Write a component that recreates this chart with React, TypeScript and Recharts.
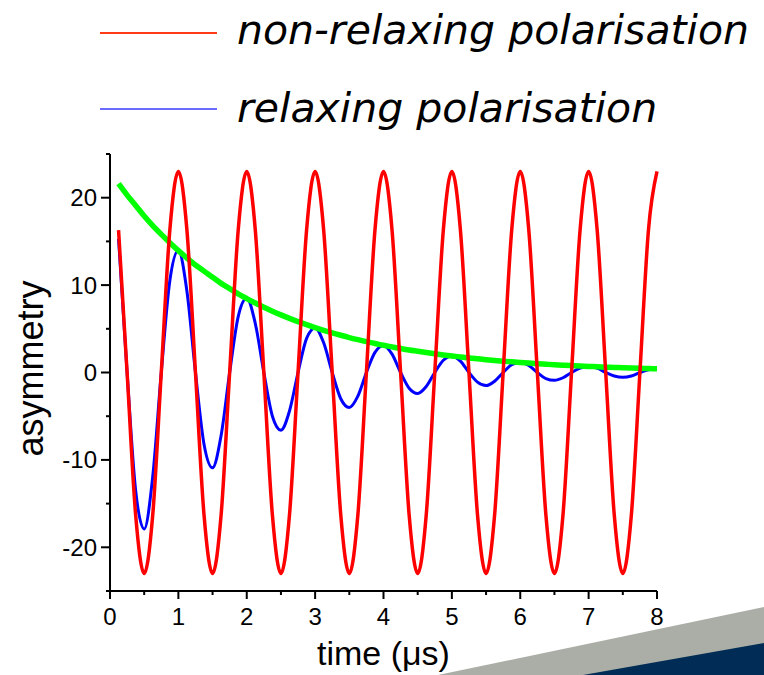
import React from 'react';
import { LineChart, Line, XAxis, YAxis, Legend, Label } from 'recharts';

// time axis in microseconds, sampled every 1/8 µs
const timeUs = [
  0.125, 0.25, 0.375, 0.5, 0.625, 0.75, 0.875, 1,
  1.125, 1.25, 1.375, 1.5, 1.625, 1.75, 1.875, 2,
  2.125, 2.25, 2.375, 2.5, 2.625, 2.75, 2.875, 3,
  3.125, 3.25, 3.375, 3.5, 3.625, 3.75, 3.875, 4,
  4.125, 4.25, 4.375, 4.5, 4.625, 4.75, 4.875, 5,
  5.125, 5.25, 5.375, 5.5, 5.625, 5.75, 5.875, 6,
  6.125, 6.25, 6.375, 6.5, 6.625, 6.75, 6.875, 7,
  7.125, 7.25, 7.375, 7.5, 7.625, 7.75, 7.875, 8,
];

const nonRelaxing = [
  16.3, 0, -16.3, -23, -16.3, 0, 16.3, 23,
  16.3, 0, -16.3, -23, -16.3, 0, 16.3, 23,
  16.3, 0, -16.3, -23, -16.3, 0, 16.3, 23,
  16.3, 0, -16.3, -23, -16.3, 0, 16.3, 23,
  16.3, 0, -16.3, -23, -16.3, 0, 16.3, 23,
  16.3, 0, -16.3, -23, -16.3, 0, 16.3, 23,
  16.3, 0, -16.3, -23, -16.3, 0, 16.3, 23,
  16.3, 0, -16.3, -23, -16.3, 0, 16.3, 23,
];

const relaxing = [
  15.3, 0, -13.5, -17.9, -11.9, 0, 10.5, 13.95,
  9.3, 0, -8.2, -10.9, -7.2, 0, 6.4, 8.5,
  5.6, 0, -5.0, -6.6, -4.4, 0, 3.9, 5.1,
  3.4, 0, -3.0, -4.0, -2.7, 0, 2.3, 3.1,
  2.1, 0, -1.8, -2.4, -1.6, 0, 1.4, 1.9,
  1.3, 0, -1.1, -1.5, -1.0, 0, 0.9, 1.15,
  0.8, 0, -0.7, -0.9, -0.6, 0, 0.5, 0.7,
  0.5, 0, -0.4, -0.55, -0.4, 0, 0.3, 0.42,
];

const envelope = [
  21.6, 20.3, 19.1, 17.9, 16.8, 15.8, 14.85, 13.95,
  13.1, 12.3, 11.6, 10.9, 10.2, 9.6, 9.0, 8.46,
  7.95, 7.47, 7.02, 6.59, 6.19, 5.82, 5.47, 5.13,
  4.82, 4.53, 4.26, 4.0, 3.76, 3.53, 3.32, 3.11,
  2.93, 2.75, 2.58, 2.43, 2.28, 2.14, 2.01, 1.89,
  1.78, 1.67, 1.57, 1.47, 1.38, 1.3, 1.22, 1.15,
  1.08, 1.01, 0.95, 0.89, 0.84, 0.79, 0.74, 0.7,
  0.65, 0.61, 0.58, 0.54, 0.51, 0.48, 0.45, 0.42,
];

const xTicks = [0, 0.5, 1, 1.5, 2, 2.5, 3, 3.5, 4, 4.5, 5, 5.5, 6, 6.5, 7, 7.5, 8];
const yTicks = [-25, -20, -15, -10, -5, 0, 5, 10, 15, 20, 25];

const legendLabels: Record<string, string> = {
  nonRelaxing: 'non-relaxing polarisation',
  relaxing: 'relaxing polarisation',
};
const legendOrder = ['nonRelaxing', 'relaxing'];
const legendColors: Record<string, string> = {
  nonRelaxing: '#ff3a17',
  relaxing: '#6b6bff',
};

const data = timeUs.map((t, i) => ({
  time: t,
  nonRelaxing: nonRelaxing[i],
  relaxing: relaxing[i],
  envelope: envelope[i],
}));

const axisFont = '"Liberation Sans", Arial, sans-serif';

const XTick = (props: any) => {
  const { x, y, payload } = props;
  const major = Number.isInteger(payload.value);
  return (
    <g>
      <line x1={x} y1={y} x2={x} y2={y + (major ? 8 : 4)} stroke="#000" strokeWidth={2} />
      {major && (
        <text x={x} y={y + 34} textAnchor="middle" fontSize={24} fontFamily={axisFont} fill="#000">
          {payload.value}
        </text>
      )}
    </g>
  );
};

const YTick = (props: any) => {
  const { x, y, payload } = props;
  const major = payload.value % 10 === 0;
  return (
    <g>
      <line x1={x} y1={y} x2={x - (major ? 9 : 4)} y2={y} stroke="#000" strokeWidth={2} />
      {major && (
        <text x={x - 13} y={y + 8.5} textAnchor="end" fontSize={24} fontFamily={axisFont} fill="#000">
          {payload.value}
        </text>
      )}
    </g>
  );
};

const renderLegend = (props: any) => {
  const items = [...(props.payload || [])]
    .filter((p: any) => legendLabels[p.dataKey])
    .sort((a: any, b: any) => legendOrder.indexOf(a.dataKey) - legendOrder.indexOf(b.dataKey));
  return (
    <svg width={764} height={140}>
      {items.map((p: any, i: number) => {
        const cy = 33 + i * 76;
        return (
          <g key={p.dataKey}>
            <line x1={100} y1={cy} x2={217} y2={cy} stroke={legendColors[p.dataKey]} strokeWidth={2} />
            <text
              x={237}
              y={cy + 11 + i * 2}
              fontSize={41}
              fontStyle="italic"
              fontFamily='"DejaVu Sans", sans-serif'
              fill="#000"
            >
              {legendLabels[p.dataKey]}
            </text>
          </g>
        );
      })}
    </svg>
  );
};

export default function App() {
  return (
    <div style={{ position: 'absolute', left: 0, top: 0, width: 764, height: 675, background: '#fff' }}>
      <LineChart
        width={764}
        height={675}
        data={data}
        margin={{ top: 154, right: 107, bottom: 54, left: 50 }}
      >
        <XAxis
          dataKey="time"
          type="number"
          domain={[0, 8]}
          ticks={xTicks}
          interval={0}
          height={30}
          tickSize={0}
          tickMargin={0}
          tickLine={false}
          tick={<XTick />}
          axisLine={{ stroke: '#000', strokeWidth: 2 }}
        >
          <Label
            content={(p: any) => {
              const vb = p.viewBox;
              return (
                <text
                  x={vb.x + vb.width / 2}
                  y={vb.y + 74}
                  textAnchor="middle"
                  fontSize={34}
                  fontFamily={axisFont}
                  fill="#000"
                >
                  time (μs)
                </text>
              );
            }}
          />
        </XAxis>
        <YAxis
          type="number"
          domain={[-25, 25]}
          ticks={yTicks}
          interval={0}
          width={60}
          tickSize={0}
          tickMargin={0}
          tickLine={false}
          tick={<YTick />}
          axisLine={{ stroke: '#000', strokeWidth: 2 }}
        >
          <Label
            content={(p: any) => {
              const vb = p.viewBox;
              const cx = 43;
              const cy = vb.y + vb.height / 2 - 4;
              return (
                <text
                  x={cx}
                  y={cy}
                  transform={`rotate(-90, ${cx}, ${cy})`}
                  textAnchor="middle"
                  fontSize={36}
                  fontFamily={axisFont}
                  fill="#000"
                >
                  asymmetry
                </text>
              );
            }}
          />
        </YAxis>
        <Legend
          layout="horizontal"
          verticalAlign="middle"
          align="center"
          wrapperStyle={{ left: 0, top: 0, width: 764, height: 140 }}
          content={renderLegend}
        />
        <Line
          type="monotone"
          dataKey="relaxing"
          stroke="#0000ff"
          strokeWidth={3}
          dot={false}
          isAnimationActive={false}
        />
        <Line
          type="monotone"
          dataKey="envelope"
          stroke="#00ff00"
          strokeWidth={5.5}
          dot={false}
          legendType="none"
          isAnimationActive={false}
        />
        <Line
          type="monotone"
          dataKey="nonRelaxing"
          stroke="#ff0000"
          strokeWidth={3.5}
          dot={false}
          isAnimationActive={false}
        />
      </LineChart>
      <svg
        width={764}
        height={675}
        style={{ position: 'absolute', left: 0, top: 0, pointerEvents: 'none' }}
      >
        <polygon points="438,675 764,607 764,675" fill="#abaea6" />
        <polygon points="583,675 764,643 764,675" fill="#002c55" />
      </svg>
    </div>
  );
}
